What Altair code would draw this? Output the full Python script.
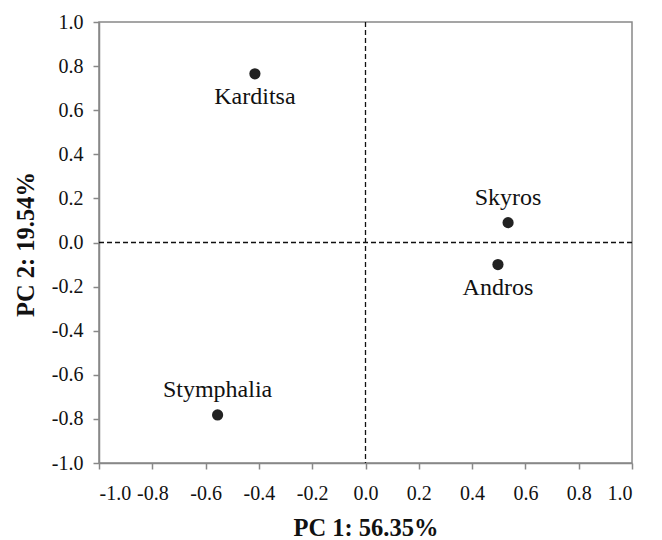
import altair as alt
import pandas as pd

sites = ["Karditsa", "Skyros", "Andros", "Stymphalia"]
pc1 = [-0.415, 0.535, 0.497, -0.555]
pc2 = [0.765, 0.09, -0.10, -0.782]
label_side = ["below", "above", "below", "above"]

df = pd.DataFrame({"site": sites, "pc1": pc1, "pc2": pc2, "side": label_side})
zero = pd.DataFrame({"v": [0.0]})

FONT = "Liberation Serif"
ticks = [round(-1 + 0.2 * i, 1) for i in range(11)]

xs = alt.Scale(domain=[-1, 1], nice=False)
ys = alt.Scale(domain=[-1, 1], nice=False)

lab = "datum.value < 0 ? '-' + format(abs(datum.value), '.1f') : format(datum.value, '.1f')"

xaxis = alt.Axis(values=ticks, labelExpr=lab, title="PC 1: 56.35%", titleY=72,
                 titleBaseline="alphabetic", labelPadding=14)
yaxis = alt.Axis(values=ticks, labelExpr=lab, title="PC 2: 19.54%", titleX=-66, titleY=222,
                 titleAngle=-90, titleBaseline="alphabetic", titleAlign="center", labelPadding=10)

base = alt.Chart(df)

points = base.mark_circle(size=125, color="#222222", opacity=1).encode(
    x=alt.X("pc1:Q", scale=xs, axis=xaxis),
    y=alt.Y("pc2:Q", scale=ys, axis=yaxis),
)

below = base.transform_filter(alt.datum.side == "below").mark_text(
    font=FONT, fontSize=24, dy=30, baseline="alphabetic", color="#111111"
).encode(x=alt.X("pc1:Q", scale=xs), y=alt.Y("pc2:Q", scale=ys), text="site:N")

above = base.transform_filter(alt.datum.side == "above").mark_text(
    font=FONT, fontSize=24, dy=-18, baseline="alphabetic", color="#111111"
).encode(x=alt.X("pc1:Q", scale=xs), y=alt.Y("pc2:Q", scale=ys), text="site:N")

vline = alt.Chart(zero).mark_rule(color="#111111", strokeDash=[5, 3], strokeWidth=1.3).encode(
    x=alt.X("v:Q", scale=xs))
hline = alt.Chart(zero).mark_rule(color="#111111", strokeDash=[5, 3], strokeWidth=1.3).encode(
    y=alt.Y("v:Q", scale=ys))

chart = alt.layer(vline, hline, points, below, above).properties(
    width=533, height=441,
    autosize=alt.AutoSizeParams(type="none"),
    padding={"left": 91, "top": 14, "right": 22, "bottom": 77},
).configure_view(
    stroke="#888888", strokeWidth=1.5
).configure_axis(
    grid=False, domainColor="#888888", domainWidth=1.5, tickColor="#888888", tickWidth=1.5,
    tickSize=6, labelFont=FONT, labelFontSize=20, labelColor="#111111",
    titleFont=FONT, titleFontSize=24.5, titleFontWeight="bold", titleColor="#111111"
)

chart.save("out.html", embed_options={"renderer": "svg", "actions": False})
